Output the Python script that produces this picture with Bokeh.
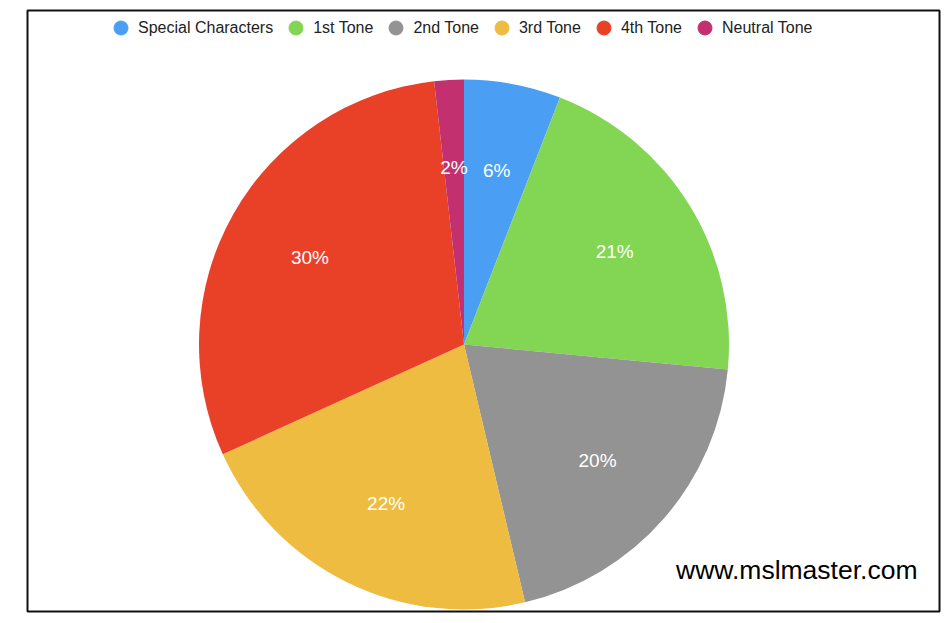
import math
import numpy as np
from bokeh.plotting import figure
from bokeh.models import ColumnDataSource, Range1d, Legend, LegendItem, Label
from bokeh.core.properties import value
from bokeh.embed import file_html
from bokeh.resources import INLINE

categories = ["Special Characters", "1st Tone", "2nd Tone", "3rd Tone", "4th Tone", "Neutral Tone"]
shares = [5.9, 20.6, 19.8, 21.9, 30.0, 1.8]
colors = ["#4A9FF5", "#83D554", "#939393", "#EEBC40", "#E94128", "#C2306F"]

FONT = "Liberation Sans"
R = 265

total = sum(shares)
frac = np.array(shares) / total
cum = np.concatenate([[0.0], np.cumsum(frac)])
start = math.pi / 2 - 2 * math.pi * cum[:-1]
end = math.pi / 2 - 2 * math.pi * cum[1:]
mid = (start + end) / 2
labels = [f"{round(s)}%" for s in shares]

src = ColumnDataSource(dict(
    cat=categories, start=start, end=end, color=colors,
    lx=0.668 * R * np.cos(mid), ly=0.668 * R * np.sin(mid), lab=labels,
    nx=[np.nan] * len(categories), ny=[np.nan] * len(categories),
))

p = figure(width=942, height=615, output_backend="svg", toolbar_location=None,
           x_range=Range1d(-436.5, 475.5), y_range=Range1d(-267, 334),
           min_border_left=27, min_border_right=3, min_border_top=10, min_border_bottom=4)
p.xaxis.visible = False
p.yaxis.visible = False
p.grid.visible = False
p.background_fill_color = "white"
p.border_fill_color = "white"
p.outline_line_color = "#111111"
p.outline_line_width = 2

p.wedge(x=0, y=0, radius=R, start_angle="start", end_angle="end", direction="clock",
        fill_color="color", line_color=None, source=src)

p.text(x="lx", y="ly", text="lab", source=src, text_color="white",
       text_font=value(FONT), text_font_size="19px", text_align="center",
       text_baseline="middle")

sc = p.scatter(x="nx", y="ny", fill_color="color", line_color="color", size=14, source=src)

items = [LegendItem(label=c, renderers=[sc], index=i) for i, c in enumerate(categories)]
legend = Legend(items=items, orientation="horizontal", location=(76, 566),
                glyph_width=35, glyph_height=35, label_standoff=0, spacing=5,
                padding=0, margin=0, border_line_color=None, background_fill_alpha=0,
                label_text_font=FONT, label_text_font_size="16px", label_text_color="#222222")
p.add_layout(legend, "center")

wm = Label(x=890, y=42, x_units="screen", y_units="screen", text="www.mslmaster.com",
           text_align="right", text_baseline="alphabetic", text_font=FONT,
           text_font_size="26.5px", text_color="black")
p.add_layout(wm)

open("out.html", "w").write(file_html(p, INLINE))
